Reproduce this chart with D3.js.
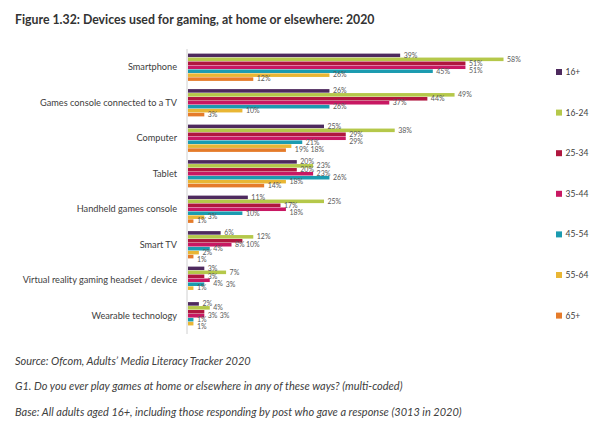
<!DOCTYPE html>
<html>
<head>
<meta charset="utf-8">
<script src="https://cdn.jsdelivr.net/npm/d3@7/dist/d3.min.js"></script>
<style>
  html, body { margin: 0; padding: 0; background: #fff; }
  svg { display: block; }
</style>
</head>
<body>
<svg id="chart" width="612" height="432"></svg>
<script>
const categories = [
  "Smartphone",
  "Games console connected to a TV",
  "Computer",
  "Tablet",
  "Handheld games console",
  "Smart TV",
  "Virtual reality gaming headset / device",
  "Wearable technology"
];
const seriesNames = ["16+", "16-24", "25-34", "35-44", "45-54", "55-64", "65+"];
const seriesColors = ["#4E2A5E", "#B5C84A", "#B0173F", "#C81862", "#1B9BB0", "#E9B634", "#E57B2A"];
const s16plus = [39, 26, 25, 20, 11, 6, 3, 2];
const s16_24  = [58, 49, 38, 23, 25, 12, 7, 4];
const s25_34  = [51, 44, 29, 20, 17, 10, 3, 3];
const s35_44  = [51, 37, 29, 23, 18, 8, 4, 3];
const s45_54  = [45, 26, 21, 26, 10, 4, 3, 1];
const s55_64  = [26, 10, 19, 18, 3, 2, 1, 1];
const s65plus = [12, 3, 18, 14, 1, 1, 0, 0];
const seriesValues = [s16plus, s16_24, s25_34, s35_44, s45_54, s55_64, s65plus];

const title = "Figure 1.32: Devices used for gaming, at home or elsewhere: 2020";
const notes = [
  "Source: Ofcom, Adults\u2019 Media Literacy Tracker 2020",
  "G1. Do you ever play games at home or elsewhere in any of these ways? (multi-coded)",
  "Base: All adults aged 16+, including those responding by post who gave a response (3013 in 2020)"
];

const svg = d3.select("#chart");
const font = "Lato, 'Open Sans', 'DejaVu Sans', sans-serif";

svg.append("text")
  .attr("x", 15).attr("y", 24)
  .attr("font-family", font).attr("font-weight", "bold")
  .attr("font-size", 12.3).attr("fill", "#333")
  .text(title);

const x = d3.scaleLinear().domain([0, 60]).range([188, 514.4]);
const y0 = d3.scaleBand().domain(categories).range([49.5, 333.5]).paddingInner(0.22).paddingOuter(0.11);
const y1 = d3.scaleBand().domain(seriesNames).range([0, y0.bandwidth()]);

svg.append("line")
  .attr("x1", 187).attr("x2", 187)
  .attr("y1", 49).attr("y2", 334)
  .attr("stroke", "#d0d0d0").attr("stroke-width", 1);

const yAxis = d3.axisLeft(y0).tickSize(0).tickPadding(0);
const gAxis = svg.append("g").attr("transform", "translate(177,0)").call(yAxis);
gAxis.select(".domain").remove();
gAxis.selectAll("text")
  .attr("font-family", font).attr("font-size", 9.2).attr("fill", "#404040");

const barLayer = svg.append("g");
const labelLayer = svg.append("g");

categories.forEach((cat, ci) => {
  const gy = y0(cat);
  const placed = [];
  seriesNames.forEach((s, si) => {
    const v = seriesValues[si][ci];
    const by = gy + y1(s);
    barLayer.append("rect")
      .attr("x", x(0)).attr("y", by + 0.2)
      .attr("width", x(v) - x(0))
      .attr("height", y1.bandwidth() - 0.4)
      .attr("fill", seriesColors[si]);
    if (v <= 0) return;
    const t = labelLayer.append("text")
      .attr("font-family", font).attr("font-size", 7).attr("fill", "#595959")
      .text(v + "%");
    const w = t.node().getComputedTextLength();
    const h = 6.2;
    let lx = x(v) + 3.5;
    const cy = by + y1.bandwidth() / 2;
    const overlaps = (bx, byy) => placed.some(p =>
      bx < p.x + p.w + 0.5 && bx + w + 0.5 > p.x && byy < p.y + p.h && byy + h > p.y);
    const shifts = [0, 2, -2, 3.5, -3.5, 5, -5];
    let done = false;
    let top = cy - h / 2;
    for (const dy of shifts) {
      if (!overlaps(lx, cy - h / 2 + dy)) { top = cy - h / 2 + dy; done = true; break; }
    }
    if (!done) {
      let tries = 0;
      while (overlaps(lx, top) && tries < 20) { lx += 3; tries++; }
    }
    placed.push({x: lx, y: top, w: w, h: h});
    t.attr("x", lx).attr("y", top + h - 0.8);
  });
});

const legend = svg.append("g").selectAll("g")
  .data(seriesNames).join("g")
  .attr("transform", (d, i) => `translate(556,${72 + i * 40.6})`);
legend.append("rect")
  .attr("x", 0).attr("y", -3).attr("width", 6).attr("height", 6)
  .attr("fill", (d, i) => seriesColors[i]);
legend.append("text")
  .attr("x", 9.5).attr("y", 3)
  .attr("font-family", font).attr("font-size", 8.5).attr("fill", "#404040")
  .text(d => d);

notes.forEach((t, i) => {
  svg.append("text")
    .attr("x", 15).attr("y", 364.5 + i * 25.5)
    .attr("font-family", font).attr("font-style", "italic")
    .attr("font-size", 11).attr("fill", "#404040")
    .text(t);
});
</script>
</body>
</html>
